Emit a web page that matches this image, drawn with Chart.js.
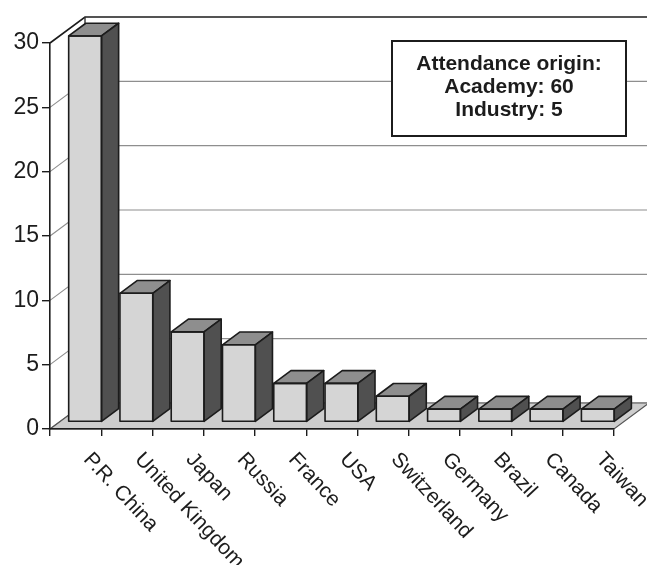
<!DOCTYPE html>
<html>
<head>
<meta charset="utf-8">
<title>Attendance by country</title>
<script src="https://cdn.jsdelivr.net/npm/chart.js@4.4.1/dist/chart.umd.min.js"></script>
<style>
  html, body { margin: 0; padding: 0; background: #fff; }
  canvas { display: block; }
</style>
</head>
<body>
<canvas id="chart" width="647" height="565"></canvas>
<script>
// Participants per country of origin
const countries = ['P.R. China', 'United Kingdom', 'Japan', 'Russia', 'France', 'USA',
                   'Switzerland', 'Germany', 'Brazil', 'Canada', 'Taiwan'];
const participants = [30, 10, 7, 6, 3, 3, 2, 1, 1, 1, 1];
const valueTicks = [0, 5, 10, 15, 20, 25, 30];
const noteLines = ['Attendance origin:', 'Academy: 60', 'Industry: 5'];

// Oblique projection used for the walls, floor and bar bodies
const DEPTH = { x: 35, y: -26 };
const BAR_FRONT = 0.27;   // fraction of floor depth where bar fronts sit
const BAR_BACK = 0.76;    // fraction of floor depth where bar backs sit

const FONT = '"Liberation Sans", Arial, Helvetica, sans-serif';
const INK = '#1c1c1c';

const depthFrame = {
  id: 'depthFrame',
  beforeDraw(chart) {
    const { ctx, chartArea: a, scales: { y } } = chart;
    ctx.save();
    ctx.fillStyle = '#fff';
    ctx.fillRect(0, 0, chart.width, chart.height);

    // back wall and side wall grid lines
    valueTicks.forEach(v => {
      const py = y.getPixelForValue(v);
      const isTop = v === valueTicks[valueTicks.length - 1];
      ctx.strokeStyle = isTop ? INK : '#8e8e8e';
      ctx.lineWidth = isTop ? 1.6 : 1.1;
      ctx.beginPath();
      ctx.moveTo(a.left, py);
      ctx.lineTo(a.left + DEPTH.x, py + DEPTH.y);
      ctx.lineTo(chart.width + 2, py + DEPTH.y);
      ctx.stroke();
    });

    // back wall left edge
    ctx.strokeStyle = '#333';
    ctx.lineWidth = 1.4;
    ctx.beginPath();
    ctx.moveTo(a.left + DEPTH.x, a.top + DEPTH.y);
    ctx.lineTo(a.left + DEPTH.x, a.bottom + DEPTH.y);
    ctx.stroke();

    // floor
    ctx.beginPath();
    ctx.moveTo(a.left, a.bottom);
    ctx.lineTo(a.right, a.bottom);
    ctx.lineTo(a.right + DEPTH.x, a.bottom + DEPTH.y);
    ctx.lineTo(a.left + DEPTH.x, a.bottom + DEPTH.y);
    ctx.closePath();
    ctx.fillStyle = '#cdcdcd';
    ctx.fill();
    ctx.strokeStyle = '#555';
    ctx.lineWidth = 1.2;
    ctx.stroke();
    ctx.restore();
  },
  beforeDatasetsDraw(chart) {
    chart.ctx.save();
    chart.ctx.translate(DEPTH.x * BAR_FRONT, DEPTH.y * BAR_FRONT);
  },
  afterDatasetsDraw(chart) {
    const { ctx } = chart;
    const bx = DEPTH.x * (BAR_BACK - BAR_FRONT);
    const by = DEPTH.y * (BAR_BACK - BAR_FRONT);
    ctx.lineJoin = 'round';
    ctx.strokeStyle = INK;
    ctx.lineWidth = 1.6;
    chart.getDatasetMeta(0).data.forEach(bar => {
      const L = bar.x - bar.width / 2, R = bar.x + bar.width / 2;
      const T = bar.y, B = bar.base;
      // top face
      ctx.beginPath();
      ctx.moveTo(L, T);
      ctx.lineTo(R, T);
      ctx.lineTo(R + bx, T + by);
      ctx.lineTo(L + bx, T + by);
      ctx.closePath();
      ctx.fillStyle = '#8e8e8e';
      ctx.fill();
      ctx.stroke();
      // side face
      ctx.beginPath();
      ctx.moveTo(R, T);
      ctx.lineTo(R + bx, T + by);
      ctx.lineTo(R + bx, B + by);
      ctx.lineTo(R, B);
      ctx.closePath();
      ctx.fillStyle = '#505050';
      ctx.fill();
      ctx.stroke();
      // front outline
      ctx.strokeRect(L, T, R - L, B - T);
    });
    ctx.restore();
  },
  afterDraw(chart) {
    const { ctx, scales: { x } } = chart;
    ctx.save();
    // slanted category labels
    ctx.fillStyle = INK;
    ctx.font = '21px ' + FONT;
    ctx.textAlign = 'left';
    ctx.textBaseline = 'alphabetic';
    countries.forEach((name, i) => {
      const cx = x.getPixelForValue(i);
      ctx.save();
      ctx.translate(cx + 7, 460);
      ctx.rotate(47 * Math.PI / 180);
      ctx.fillText(name, 0, 0);
      ctx.restore();
    });

    // attendance note
    const box = { left: 392, top: 41, width: 234, height: 95 };
    ctx.fillStyle = '#fff';
    ctx.fillRect(box.left, box.top, box.width, box.height);
    ctx.strokeStyle = INK;
    ctx.lineWidth = 2;
    ctx.strokeRect(box.left, box.top, box.width, box.height);
    ctx.fillStyle = INK;
    ctx.font = 'bold 21px ' + FONT;
    ctx.textAlign = 'center';
    noteLines.forEach((line, i) => {
      ctx.fillText(line, box.left + box.width / 2, 70 + i * 23);
    });
    ctx.restore();
  }
};

new Chart(document.getElementById('chart'), {
  type: 'bar',
  data: {
    labels: countries,
    datasets: [{
      data: participants,
      backgroundColor: '#d5d5d5',
      borderColor: INK,
      borderWidth: 0,
      borderSkipped: false,
      barPercentage: 0.64,
      categoryPercentage: 1.0
    }]
  },
  options: {
    responsive: false,
    animation: false,
    devicePixelRatio: 1,
    layout: { padding: { top: 43, right: 33, left: 0, bottom: 0 } },
    plugins: { legend: { display: false }, tooltip: { enabled: false } },
    scales: {
      x: {
        type: 'category',
        offset: true,
        grid: {
          display: true, offset: true, drawOnChartArea: false,
          drawTicks: true, tickLength: 7, color: INK, lineWidth: 1.4
        },
        border: { display: true, color: INK, width: 1.6 },
        ticks: { display: false },
        afterFit(scale) { scale.height = 136; }
      },
      y: {
        min: 0,
        max: 30,
        afterBuildTicks(scale) { scale.ticks = valueTicks.map(v => ({ value: v })); },
        grid: {
          display: true, drawOnChartArea: false,
          drawTicks: true, tickLength: 8, color: INK, lineWidth: 1.4
        },
        border: { display: true, color: INK, width: 1.6 },
        ticks: {
          color: INK,
          padding: 3,
          font: { family: FONT, size: 23 }
        },
        afterFit(scale) { scale.width = 50; }
      }
    }
  },
  plugins: [depthFrame]
});
</script>
</body>
</html>
